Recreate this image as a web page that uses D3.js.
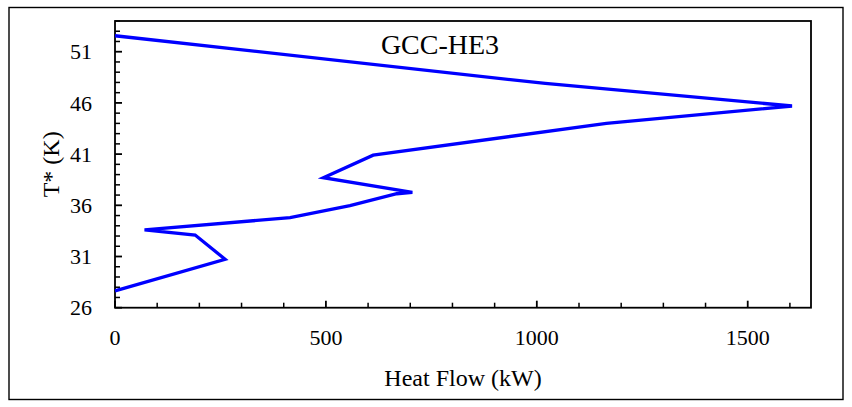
<!DOCTYPE html>
<html>
<head>
<meta charset="utf-8">
<script src="https://cdn.jsdelivr.net/npm/d3@7"></script>
<style>
  html, body { margin: 0; padding: 0; background: #fff; }
  svg { display: block; }
  svg text { font-family: "Liberation Serif", "Times New Roman", Times, serif; fill: #000; }
</style>
</head>
<body>
<svg id="chart" width="852" height="407"></svg>
<script>
// Grand composite curve for heat exchanger HE3: heat flow (kW) vs shifted temperature T* (K)
const heatFlow = [0, 1020, 1605, 1165, 612, 494, 705, 668, 557, 415, 70, 190, 261, 0];
const shiftedT = [52.56, 47.9, 45.7, 44.0, 40.9, 38.7, 37.27, 37.13, 35.96, 34.8, 33.6, 33.1, 30.73, 27.64];
const xTicks = [0, 500, 1000, 1500];
const yTicks = [26, 31, 36, 41, 46, 51];
const title = "GCC-HE3";
const xTitle = "Heat Flow (kW)";
const yTitle = "T* (K)";

const serif = "'Liberation Serif', 'Times New Roman', serif";
const svg = d3.select("#chart");
const plotLeft = 115, plotRight = 811, plotTop = 21, plotBottom = 307.7;

// Figure frame
svg.append("rect")
  .attr("x", 9).attr("y", 7.5).attr("width", 834).attr("height", 392)
  .attr("fill", "none").attr("stroke", "#000").attr("stroke-width", 1.4);

const x = d3.scaleLinear().domain([0, 1650]).range([plotLeft, plotRight]);
const y = d3.scaleLinear().domain([26, 54]).range([plotBottom, plotTop]);

// Plot box
svg.append("rect")
  .attr("x", plotLeft).attr("y", plotTop)
  .attr("width", plotRight - plotLeft).attr("height", plotBottom - plotTop)
  .attr("fill", "none").attr("stroke", "#000").attr("stroke-width", 1.8);

// Minor ticks (inward)
const xMinor = d3.range(0, 1650, 100).filter(v => !xTicks.includes(v));
const yMinor = d3.range(26, 54.01, 1).filter(v => !yTicks.includes(v));

const xAxis = svg.append("g").attr("transform", `translate(0,${plotBottom})`);
xAxis.selectAll("line.minor").data(xMinor).join("line").attr("class", "minor")
  .attr("x1", d => x(d)).attr("x2", d => x(d)).attr("y1", 0).attr("y2", -5)
  .attr("stroke", "#000").attr("stroke-width", 1.5);
xAxis.selectAll("line.major").data(xTicks).join("line").attr("class", "major")
  .attr("x1", d => x(d)).attr("x2", d => x(d)).attr("y1", 0).attr("y2", -7)
  .attr("stroke", "#000").attr("stroke-width", 1.8);
xAxis.selectAll("text").data(xTicks).join("text")
  .attr("x", d => x(d)).attr("y", 37)
  .attr("font-family", serif)
  .attr("text-anchor", "middle").attr("font-size", 22).text(d => d);

const yAxis = svg.append("g").attr("transform", `translate(${plotLeft},0)`);
yAxis.selectAll("line.minor").data(yMinor).join("line").attr("class", "minor")
  .attr("y1", d => y(d)).attr("y2", d => y(d)).attr("x1", 0).attr("x2", 5)
  .attr("stroke", "#000").attr("stroke-width", 1.5);
yAxis.selectAll("line.major").data(yTicks).join("line").attr("class", "major")
  .attr("y1", d => y(d)).attr("y2", d => y(d)).attr("x1", 0).attr("x2", 7)
  .attr("stroke", "#000").attr("stroke-width", 1.8);
yAxis.selectAll("text").data(yTicks).join("text")
  .attr("x", -23).attr("y", d => y(d)).attr("dy", "0.35em")
  .attr("font-family", serif)
  .attr("text-anchor", "end").attr("font-size", 22).text(d => d);

// Curve
const line = d3.line().x(d => x(d[0])).y(d => y(d[1]));
svg.append("path")
  .datum(heatFlow.map((v, i) => [v, shiftedT[i]]))
  .attr("d", line)
  .attr("fill", "none").attr("stroke", "#0000ff").attr("stroke-width", 3.3)
  .attr("stroke-linejoin", "miter");

// Titles
svg.append("text").attr("x", 440).attr("y", 54)
  .attr("font-family", serif)
  .attr("text-anchor", "middle").attr("font-size", 28).text(title);
svg.append("text").attr("x", (plotLeft + plotRight) / 2).attr("y", 386)
  .attr("font-family", serif)
  .attr("text-anchor", "middle").attr("font-size", 24).text(xTitle);
svg.append("text")
  .attr("transform", `translate(59,${(plotTop + plotBottom) / 2}) rotate(-90)`)
  .attr("font-family", serif)
  .attr("text-anchor", "middle").attr("font-size", 24).text(yTitle);
</script>
</body>
</html>
